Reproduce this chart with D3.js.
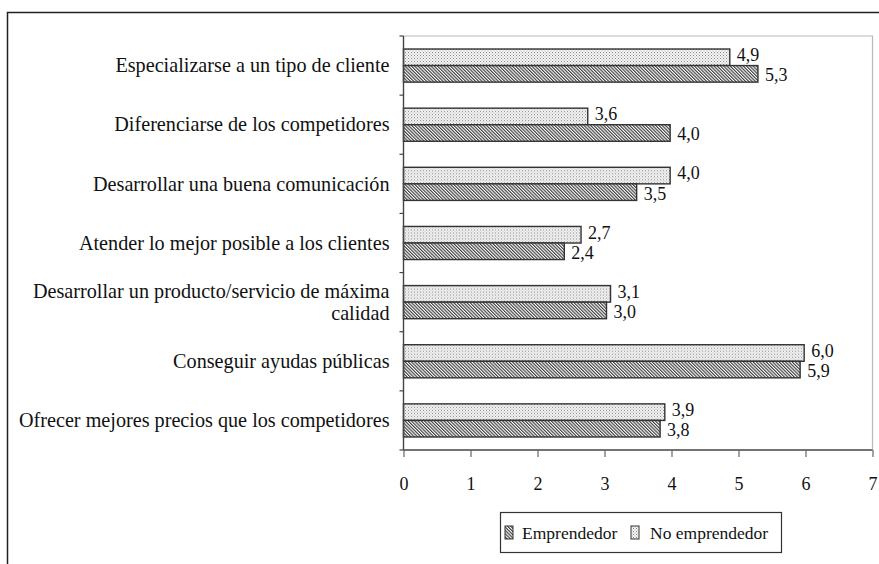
<!DOCTYPE html>
<html>
<head>
<meta charset="utf-8">
<script src="https://cdn.jsdelivr.net/npm/d3@7"></script>
<style>
  html, body { margin: 0; padding: 0; background: #fff; }
  svg { display: block; }
  text { font-family: "Liberation Serif", "Times New Roman", serif; fill: #111; }
</style>
</head>
<body>
<svg id="chart" width="879" height="564"></svg>
<script>
// ---- data ----
const categories = [
  "Especializarse a un tipo de cliente",
  "Diferenciarse de los competidores",
  "Desarrollar una buena comunicación",
  "Atender lo mejor posible a los clientes",
  "Desarrollar un producto/servicio de máxima calidad",
  "Conseguir ayudas públicas",
  "Ofrecer mejores precios que los competidores"
];
const seriesNames = ["No emprendedor", "Emprendedor"];
// bar lengths as drawn in the picture
const noEmprendedor = [4.87, 2.75, 3.98, 2.65, 3.09, 5.98, 3.9];
const emprendedor   = [5.29, 3.98, 3.48, 2.4, 3.03, 5.92, 3.83];
// value labels as printed in the picture
const noEmprendedorLabels = ["4,9", "3,6", "4,0", "2,7", "3,1", "6,0", "3,9"];
const emprendedorLabels   = ["5,3", "4,0", "3,5", "2,4", "3,0", "5,9", "3,8"];
const xTicks = [0, 1, 2, 3, 4, 5, 6, 7];

// ---- layout ----
const svg = d3.select("#chart");
const W = 879, H = 564;
const plot = { left: 403.5, right: 872.5, top: 36, bottom: 450 };

// patterns
const defs = svg.append("defs");
const hatch = defs.append("pattern").attr("id", "hatch")
  .attr("patternUnits", "userSpaceOnUse").attr("width", 2.3).attr("height", 2.3)
  .attr("patternTransform", "rotate(-45)");
hatch.append("rect").attr("width", 2.3).attr("height", 2.3).attr("fill", "#fff");
hatch.append("line").attr("x1", 0.6).attr("y1", -1).attr("x2", 0.6).attr("y2", 4)
  .attr("stroke", "#333").attr("stroke-width", 1.1);

const dots = defs.append("pattern").attr("id", "dots")
  .attr("patternUnits", "userSpaceOnUse").attr("width", 3).attr("height", 3);
dots.append("rect").attr("width", 3).attr("height", 3).attr("fill", "#f4f4f4");
dots.append("rect").attr("x", 0).attr("y", 0).attr("width", 1).attr("height", 1).attr("fill", "#888");
dots.append("rect").attr("x", 1.5).attr("y", 1.5).attr("width", 1).attr("height", 1).attr("fill", "#aaa");

const fills = { "No emprendedor": "url(#dots)", "Emprendedor": "url(#hatch)" };

// outer frame
svg.append("path").attr("d", `M7.5,${H}V12.5H${W}`)
  .attr("fill", "none").attr("stroke", "#222").attr("stroke-width", 1.5);

// scales
const x = d3.scaleLinear().domain([0, 7]).range([plot.left, plot.right]);
const y = d3.scaleBand().domain(categories).range([plot.top, plot.bottom])
  .paddingInner(0.44).paddingOuter(0.22);
const ySub = d3.scaleBand().domain(seriesNames).range([0, y.bandwidth()]);

// plot area border (top & right, light gray)
svg.append("path")
  .attr("d", `M${plot.left},${plot.top}H${plot.right}V${plot.bottom}`)
  .attr("fill", "none").attr("stroke", "#b8b8b8").attr("stroke-width", 1.2);

// bars
const rows = categories.map((c, i) => ({
  cat: c,
  vals: [
    { s: "No emprendedor", v: noEmprendedor[i], label: noEmprendedorLabels[i] },
    { s: "Emprendedor", v: emprendedor[i], label: emprendedorLabels[i] }
  ]
}));

const g = svg.append("g");
const grp = g.selectAll("g.row").data(rows).join("g")
  .attr("transform", d => `translate(0,${y(d.cat)})`);

grp.selectAll("rect").data(d => d.vals).join("rect")
  .attr("x", x(0))
  .attr("y", d => ySub(d.s))
  .attr("width", d => x(d.v) - x(0))
  .attr("height", ySub.bandwidth())
  .attr("fill", d => fills[d.s])
  .attr("stroke", "#333").attr("stroke-width", 1.4);

const labelShift = { "No emprendedor": -1.5, "Emprendedor": 2 };
grp.selectAll("text.val").data(d => d.vals).join("text")
  .attr("class", "val")
  .attr("x", d => x(d.v) + 7)
  .attr("y", d => ySub(d.s) + ySub.bandwidth() / 2 + labelShift[d.s])
  .attr("dy", "0.3em")
  .attr("font-size", 18)
  .text(d => d.label);

// x axis
const xAxis = d3.axisBottom(x).tickValues(xTicks).tickSize(7).tickPadding(20)
  .tickFormat(d3.format("d"));
const xg = svg.append("g").attr("transform", `translate(0,${plot.bottom})`).call(xAxis);
xg.select(".domain").attr("stroke", "#444").attr("stroke-width", 1.4)
  .attr("d", `M${plot.left},0H${plot.right}`);
xg.selectAll(".tick line").attr("stroke", "#666").attr("stroke-width", 1.2);
xg.selectAll(".tick text").attr("font-size", 18)
  .style("font-family", "'Liberation Serif', serif").attr("fill", "#111");

// y axis (line + ticks at band boundaries)
const boundaries = categories.map(c => y(c) - y.step() * y.paddingInner() / 2)
  .concat([plot.bottom]);
svg.append("line").attr("x1", plot.left).attr("x2", plot.left)
  .attr("y1", plot.top).attr("y2", plot.bottom)
  .attr("stroke", "#444").attr("stroke-width", 1.4);
svg.selectAll("line.ytick").data(boundaries).join("line").attr("class", "ytick")
  .attr("x1", plot.left - 4).attr("x2", plot.left)
  .attr("y1", d => d).attr("y2", d => d)
  .attr("stroke", "#444").attr("stroke-width", 1.2);

// category labels (wrap long ones)
const labelX = plot.left - 14;
const lineH = 22;
categories.forEach(c => {
  const cy = y(c) + y.bandwidth() / 2;
  let lines = [c];
  if (c.length > 45) {
    const idx = c.lastIndexOf(" ");
    lines = [c.slice(0, idx), c.slice(idx + 1)];
  }
  const t = svg.append("text").attr("text-anchor", "end").attr("font-size", 20.2);
  lines.forEach((ln, k) => {
    t.append("tspan").attr("x", labelX)
      .attr("y", cy + (k - (lines.length - 1) / 2) * lineH)
      .attr("dy", "0.33em").text(ln);
  });
});

// legend
const lg = svg.append("g");
lg.append("rect").attr("x", 500.5).attr("y", 512.5).attr("width", 281).attr("height", 40)
  .attr("fill", "#fff").attr("stroke", "#333").attr("stroke-width", 1.2);
const legendItems = [
  { s: "Emprendedor", sx: 505, tx: 522 },
  { s: "No emprendedor", sx: 631, tx: 650 }
];
legendItems.forEach(it => {
  lg.append("rect").attr("x", it.sx).attr("y", 526).attr("width", 8).attr("height", 13)
    .attr("fill", fills[it.s]).attr("stroke", "#333").attr("stroke-width", 1);
  lg.append("text").attr("x", it.tx).attr("y", 533).attr("dy", "0.33em")
    .attr("font-size", 17.5).text(it.s);
});
</script>
</body>
</html>
